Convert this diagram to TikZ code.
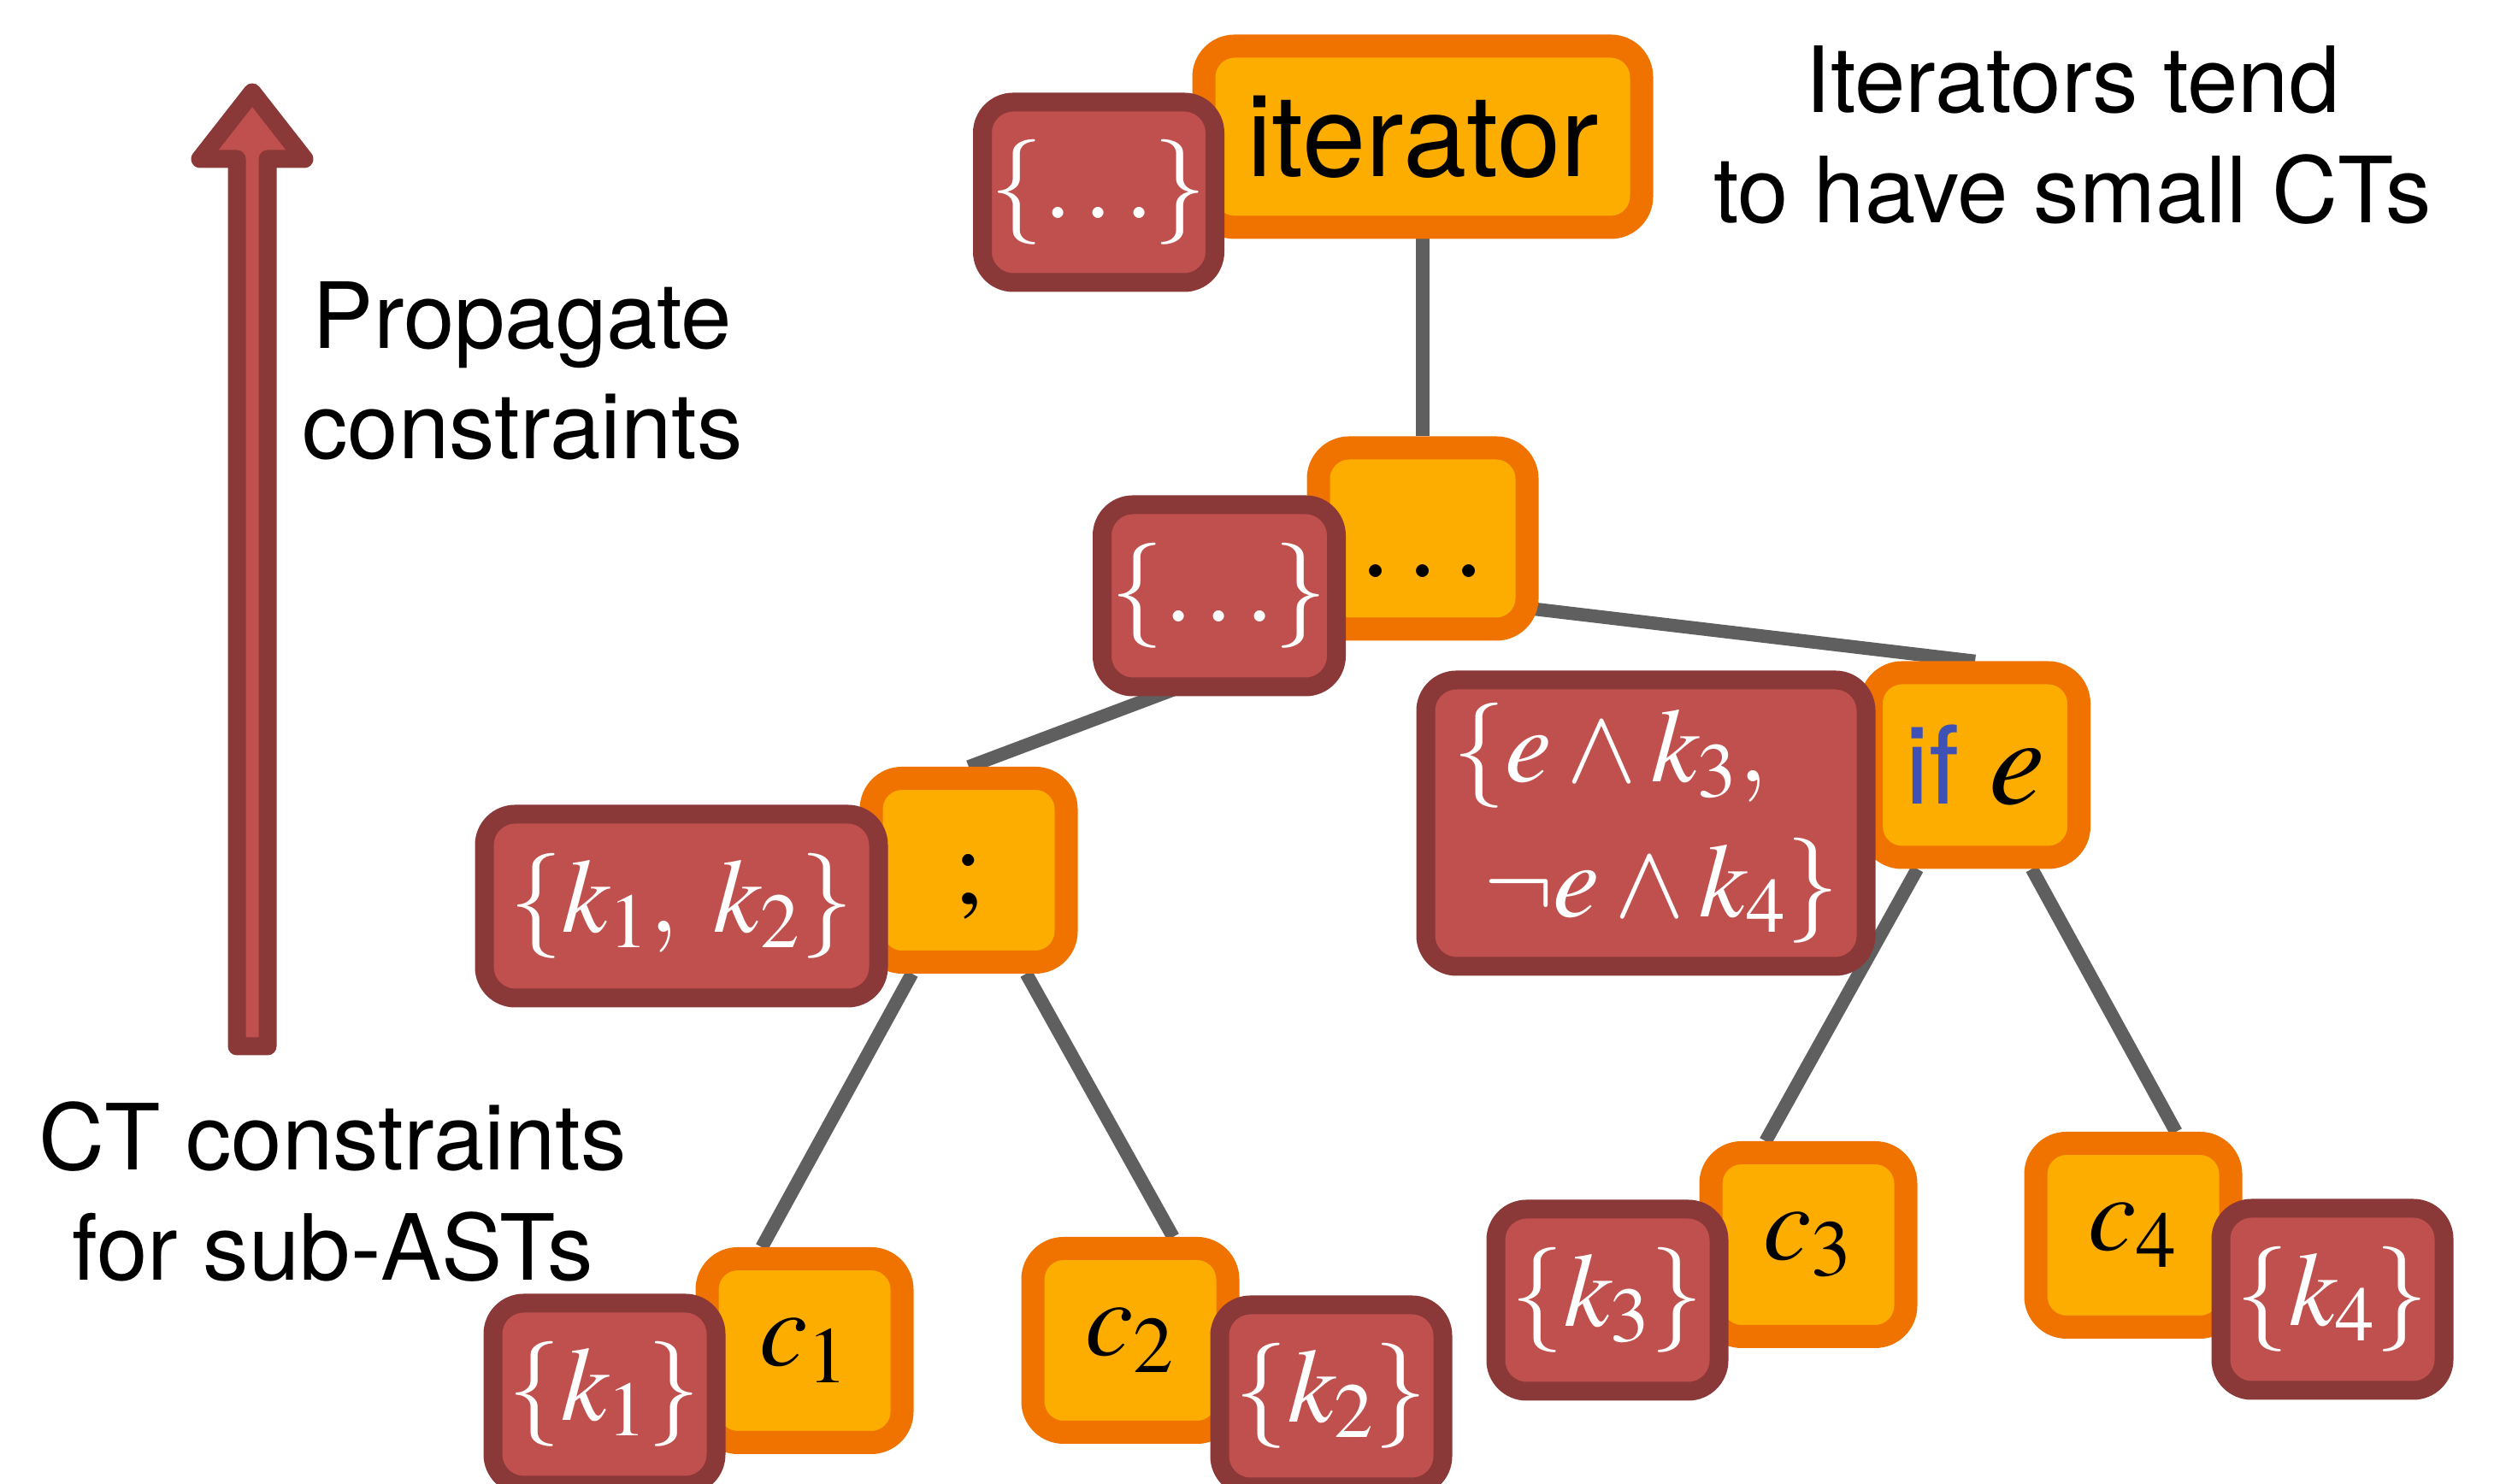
\documentclass[tikz,border=0pt]{standalone}
\usepackage{mathptmx}
\usepackage[no-math]{fontspec}
\setmainfont{TeX Gyre Heros}
\usetikzlibrary{positioning,backgrounds}
\definecolor{stmtfill}{HTML}{FCAD00}
\definecolor{stmtline}{HTML}{F07300}
\definecolor{tagfill}{HTML}{C0504D}
\definecolor{tagline}{HTML}{8B3839}
\definecolor{edgegray}{HTML}{5F5F5F}
\definecolor{kwblue}{HTML}{3F51B5}

\begin{document}
\begin{tikzpicture}[
	stmt/.style={
		draw=stmtline,
		fill=stmtfill,
		line width=0.27cm,
		rounded corners=0.36cm,
		inner sep=0pt,
		minimum width=2.28cm,
		minimum height=2.15cm,
		font=\fontsize{36}{42}\selectfont
	},
	ctag/.style={
		draw=tagline,
		fill=tagfill,
		line width=0.22cm,
		rounded corners=0.36cm,
		inner sep=0pt,
		minimum width=2.61cm,
		minimum height=2.13cm,
		text=white,
		font=\fontsize{35}{45}\selectfont
	},
	edge/.style={draw=edgegray,line width=0.155cm},
	note/.style={align=center,inner sep=0pt,font=\fontsize{30.4}{36.7}\selectfont}
	]
	\useasboundingbox (0,0) rectangle (29.24,17.36);
	
	% AST nodes
	\node[stmt,minimum width=5.12cm,minimum height=2.12cm,font=\fontsize{38}{44}\selectfont] (iter) at (16.64,15.76) {iterator};
	\node[stmt,minimum width=2.44cm,minimum height=2.12cm,text height=1.0cm,text depth=0.08cm,font=\fontsize{40}{46}\selectfont] (dots) at (16.64,11.06) {$\ldots$};
	\node[stmt,text height=0.95cm,text depth=0.15cm] (seq) at (11.33,7.18) {$;$};
	\node[stmt,minimum width=2.43cm,minimum height=2.16cm] (ife) at (23.10,8.41) {\textcolor{kwblue}{if} {\fontsize{42}{48}\selectfont$e$}};
	\node[stmt] (c1) at (9.41,1.56) {$c_1$};
	\node[stmt] (c2) at (13.22,1.68) {$c_2$};
	\node[stmt] (c3) at (21.15,2.80) {$c_3$};
	\node[stmt] (c4) at (24.95,2.91) {$c_4$};
	
	% constraint tags
	\node[ctag,minimum width=2.72cm,minimum height=2.11cm] (tagtop) at (12.85,15.11) {$\{\ldots\}$};
	\node[ctag,minimum width=2.74cm] (tagmid) at (14.26,10.39) {$\{\ldots\}$};
	\node[ctag,minimum width=4.61cm,minimum height=2.15cm] (tagseq) at (7.97,6.76) {$\{k_1,\;k_2\}$};
	\node[ctag,minimum width=5.15cm,minimum height=3.35cm,align=left] (tagife) at (19.25,7.73) {$\{e\wedge k_3,$\\\hspace*{0.36cm}$\neg e\wedge k_4\}$};
	\node[ctag] (k1) at (7.07,1.05) {$\{k_1\}$};
	\node[ctag] (k2) at (15.57,1.03) {$\{k_2\}$};
	\node[ctag] (k3) at (18.80,2.15) {$\{k_3\}$};
	\node[ctag] (k4) at (27.28,2.16) {$\{k_4\}$};
	
	\begin{pgfonlayer}{background}
		\draw[edge] (iter) -- (dots);
		\draw[edge] (dots |- tagmid) -- (seq.north);
		\draw[edge] (dots |- tagmid) -- (ife.north);
		\draw[edge] (seq) -- ([xshift=-5mm]c1.north);
		\draw[edge] (seq) -- ([xshift=5mm]c2.north);
		\draw[edge] (ife) -- ([xshift=-5mm]c3.north);
		\draw[edge] (ife) -- ([xshift=5mm]c4.north);
	\end{pgfonlayer}
	
	% propagation arrow
	\draw[line width=0.21cm,draw=tagline,fill=tagfill,line join=round]
	(2.95,16.28) -- (3.56,15.50) -- (3.13,15.50) -- (3.13,5.12)
	-- (2.77,5.12) -- (2.77,15.50) -- (2.34,15.50) -- cycle;
	
	\node[note] (itnote) at (24.24,15.78) {Iterators tend\\to have small CTs};
	\node[note] (propnote) at (6.11,13.02) {Propagate\\constraints};
	\node[note] (subnote) at (3.89,3.42) {CT constraints\\for sub-ASTs};
\end{tikzpicture}
\end{document}
